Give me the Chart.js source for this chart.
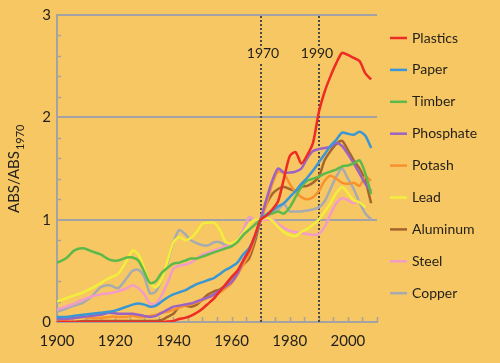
<!DOCTYPE html>
<html>
<head>
<meta charset="utf-8">
<script src="https://cdn.jsdelivr.net/npm/chart.js@4"></script>
<style>
  html, body { margin: 0; padding: 0; background: #f6c762; }
  #wrap { width: 500px; height: 363px; position: relative; }
</style>
</head>
<body>
<div id="wrap"><canvas id="chart" width="500" height="363"></canvas></div>
<script>
const years = [1900, 1903, 1906, 1909, 1912, 1915, 1918, 1921, 1924, 1926, 1928, 1930, 1932, 1934, 1936, 1938,
  1940, 1942, 1944, 1946, 1948, 1950, 1952, 1954, 1956, 1958, 1960, 1962, 1964, 1966, 1968,
  1970, 1972, 1974, 1976, 1978, 1980, 1982, 1984, 1986, 1988, 1990, 1992, 1994, 1996, 1998,
  2000, 2002, 2004, 2006, 2008];

const plastics = [0, 0, 0, 0, 0, 0, 0, 0, 0, 0, 0, 0, 0, 0, 0, 0.005,
  0.01, 0.03, 0.04, 0.06, 0.09, 0.13, 0.18, 0.23, 0.3, 0.37, 0.44, 0.5, 0.6, 0.7, 0.84,
  1.0, 1.04, 1.1, 1.18, 1.4, 1.62, 1.66, 1.55, 1.63, 1.75, 2.05, 2.25, 2.4, 2.53, 2.63,
  2.61, 2.58, 2.55, 2.43, 2.37];
const paper = [0.05, 0.05, 0.06, 0.07, 0.08, 0.09, 0.1, 0.12, 0.15, 0.17, 0.18, 0.17, 0.15, 0.16, 0.2, 0.24,
  0.27, 0.29, 0.31, 0.34, 0.37, 0.39, 0.41, 0.43, 0.47, 0.51, 0.54, 0.58, 0.66, 0.72, 0.83,
  1.0, 1.05, 1.09, 1.13, 1.16, 1.22, 1.28, 1.35, 1.41, 1.48, 1.56, 1.64, 1.72, 1.78, 1.85,
  1.84, 1.83, 1.86, 1.82, 1.7];
const timber = [0.58, 0.62, 0.7, 0.72, 0.69, 0.66, 0.61, 0.6, 0.63, 0.63, 0.6, 0.49, 0.38, 0.4, 0.48, 0.53,
  0.57, 0.58, 0.6, 0.62, 0.62, 0.64, 0.66, 0.68, 0.7, 0.72, 0.74, 0.78, 0.85, 0.9, 0.95,
  1.0, 1.05, 1.06, 1.08, 1.06, 1.12, 1.22, 1.32, 1.38, 1.4, 1.42, 1.45, 1.47, 1.49, 1.52,
  1.53, 1.55, 1.58, 1.45, 1.25];
const phosphate = [0.03, 0.03, 0.04, 0.05, 0.06, 0.07, 0.09, 0.08, 0.08, 0.08, 0.07, 0.06, 0.05, 0.06, 0.09, 0.12,
  0.15, 0.16, 0.17, 0.18, 0.2, 0.22, 0.24, 0.27, 0.31, 0.35, 0.39, 0.47, 0.6, 0.7, 0.84,
  1.0, 1.2, 1.38, 1.5, 1.46, 1.46, 1.47, 1.5, 1.6, 1.67, 1.69, 1.7, 1.71, 1.75, 1.72,
  1.64, 1.55, 1.45, 1.35, 1.28];
const potash = [0.01, 0.02, 0.04, 0.05, 0.04, 0.04, 0.05, 0.05, 0.05, 0.06, 0.05, 0.05, 0.06, 0.07, 0.09, 0.1,
  0.12, 0.14, 0.16, 0.17, 0.19, 0.21, 0.24, 0.26, 0.29, 0.33, 0.38, 0.46, 0.56, 0.66, 0.82,
  1.0, 1.15, 1.35, 1.47, 1.45, 1.35, 1.27, 1.22, 1.2, 1.22, 1.28, 1.38, 1.43, 1.4, 1.36,
  1.35, 1.36, 1.33, 1.42, 1.38];
const lead = [0.2, 0.23, 0.26, 0.29, 0.33, 0.38, 0.43, 0.47, 0.6, 0.7, 0.66, 0.52, 0.38, 0.34, 0.42, 0.6,
  0.78, 0.83, 0.8, 0.82, 0.88, 0.96, 0.97, 0.97, 0.9, 0.78, 0.77, 0.8, 0.87, 0.95, 1.0,
  1.0, 1.02, 0.99, 0.93, 0.88, 0.85, 0.84, 0.88, 0.91, 0.95, 1.0, 1.08, 1.16, 1.26, 1.32,
  1.26, 1.19, 1.17, 1.12, null];
const aluminum = [0, 0, 0, 0.01, 0.01, 0.01, 0.01, 0.01, 0.01, 0.01, 0.01, 0.01, 0.01, 0.01, 0.02, 0.05,
  0.08, 0.15, 0.16, 0.15, 0.17, 0.22, 0.27, 0.3, 0.32, 0.36, 0.43, 0.49, 0.56, 0.62, 0.78,
  1.0, 1.15, 1.25, 1.3, 1.32, 1.3, 1.28, 1.32, 1.33, 1.36, 1.42, 1.58, 1.67, 1.74, 1.77,
  1.68, 1.58, 1.5, 1.38, 1.16];
const steel = [0.12, 0.15, 0.18, 0.22, 0.25, 0.27, 0.28, 0.3, 0.33, 0.36, 0.33, 0.27, 0.18, 0.18, 0.26, 0.38,
  0.52, 0.55, 0.56, 0.58, 0.62, 0.66, 0.68, 0.7, 0.72, 0.74, 0.76, 0.8, 0.9, 1.02, 1.0,
  1.0, 1.0, 1.0, 0.96, 0.92, 0.89, 0.88, 0.87, 0.86, 0.85, 0.86, 0.93, 1.05, 1.16, 1.21,
  1.19, 1.16, 1.19, null, null];
const copper = [0.1, 0.13, 0.16, 0.19, 0.25, 0.34, 0.36, 0.33, 0.43, 0.5, 0.51, 0.44, 0.28, 0.3, 0.42, 0.58,
  0.78, 0.9, 0.86, 0.8, 0.77, 0.75, 0.75, 0.78, 0.78, 0.75, 0.74, 0.8, 0.88, 1.02, 1.0,
  1.0, 1.02, 1.07, 1.1, 1.15, 1.08, 1.08, 1.08, 1.09, 1.1, 1.12, 1.18, 1.3, 1.42, 1.5,
  1.4, 1.3, 1.17, 1.06, 1.0];

const seriesNames = ["Plastics", "Paper", "Timber", "Phosphate", "Potash", "Lead", "Aluminum", "Steel", "Copper"];
const seriesValues = [plastics, paper, timber, phosphate, potash, lead, aluminum, steel, copper];
const seriesColors = ["#ee2b25", "#3a97d5", "#5cba4a", "#9b63c3", "#f7922f", "#f3ee3c", "#a5652c", "#f29cc7", "#a6abb2"];
const markedYears = [1970, 1990];

const BG = "#f6c762";
const GRID = "#a3a3a6";
const TEXT = "#221f1a";
const FONT = "Lato, 'Open Sans', sans-serif";

function isWhole(v) {
  return Math.abs(v - Math.round(v)) < 1e-6;
}

const decor = {
  id: "decor",
  beforeDraw(chart) {
    const ctx = chart.ctx;
    ctx.save();
    ctx.fillStyle = BG;
    ctx.fillRect(0, 0, chart.width, chart.height);
    ctx.restore();
  },
  beforeDatasetsDraw(chart) {
    const ctx = chart.ctx;
    const { top, bottom, left } = chart.chartArea;
    const x = chart.scales.x;
    const y = chart.scales.y;
    ctx.save();
    // small inner ticks
    ctx.strokeStyle = GRID;
    ctx.lineWidth = 1.5;
    y.ticks.forEach((t) => {
      if (isWhole(t.value)) return;
      const py = Math.round(y.getPixelForValue(t.value)) + 0.5;
      ctx.beginPath();
      ctx.moveTo(left, py);
      ctx.lineTo(left + 4, py);
      ctx.stroke();
    });
    x.ticks.forEach((t) => {
      const px = Math.round(x.getPixelForValue(t.value)) + 0.5;
      ctx.beginPath();
      ctx.moveTo(px, bottom);
      ctx.lineTo(px, bottom - 5);
      ctx.stroke();
    });
    // dotted year markers
    ctx.font = `14px ${FONT}`;
    ctx.textAlign = "center";
    ctx.textBaseline = "middle";
    markedYears.forEach((yr) => {
      const px = Math.round(x.getPixelForValue(yr));
      ctx.fillStyle = "#4d4a45";
      for (let py = top + 1; py < bottom; py += 4) {
        if (py > 44 && py < 62) continue;
        ctx.fillRect(px - 1, py, 2, 2);
      }
      ctx.fillStyle = TEXT;
      ctx.fillText(String(yr), px + (yr === 1970 ? 2 : -2), 53);
    });
    ctx.restore();
  },
  afterDraw(chart) {
    const ctx = chart.ctx;
    ctx.save();
    // legend
    ctx.textAlign = "left";
    ctx.textBaseline = "middle";
    ctx.font = `14px ${FONT}`;
    chart.data.datasets.forEach((ds, i) => {
      const ly = 38 + i * 31.9;
      ctx.strokeStyle = ds.borderColor;
      ctx.lineWidth = 2.5;
      ctx.beginPath();
      ctx.moveTo(390, ly);
      ctx.lineTo(407, ly);
      ctx.stroke();
      ctx.fillStyle = TEXT;
      ctx.fillText(ds.label, 412, ly);
    });
    // y axis title with subscript
    ctx.translate(19, 213);
    ctx.rotate(-Math.PI / 2);
    ctx.textBaseline = "alphabetic";
    ctx.font = `15px ${FONT}`;
    ctx.fillText("ABS/ABS", 0, 0);
    const w = ctx.measureText("ABS/ABS").width;
    ctx.font = `11px ${FONT}`;
    ctx.fillText("1970", w + 1, 5);
    ctx.restore();
  },
};

const datasets = seriesNames.map((name, i) => ({
  label: name,
  data: years.map((yr, j) => ({ x: yr, y: seriesValues[i][j] })),
  borderColor: seriesColors[i],
  backgroundColor: seriesColors[i],
  borderWidth: 2.5,
  pointRadius: 0,
  tension: 0.25,
  fill: false,
}));

new Chart(document.getElementById("chart").getContext("2d"), {
  type: "line",
  data: { datasets },
  plugins: [decor],
  options: {
    responsive: false,
    animation: false,
    layout: { padding: { left: 0, top: 15, right: 123, bottom: 0 } },
    plugins: { legend: { display: false }, tooltip: { enabled: false } },
    scales: {
      x: {
        type: "linear",
        min: 1900,
        max: 2010,
        afterFit: (s) => { s.height = 41; },
        ticks: {
          stepSize: 5,
          autoSkip: false,
          maxRotation: 0,
          padding: 10,
          color: TEXT,
          font: { family: FONT, size: 15 },
          callback: (v) => (v % 20 === 0 && v <= 2000 ? String(v) : ""),
        },
        grid: { display: false, drawTicks: false },
        border: { display: true, color: GRID, width: 2 },
      },
      y: {
        min: 0,
        max: 3,
        afterFit: (s) => { s.width = 57; },
        ticks: {
          stepSize: 0.2,
          autoSkip: false,
          padding: 6,
          color: TEXT,
          font: { family: FONT, size: 15 },
          callback: (v) => (isWhole(v) ? String(Math.round(v)) : ""),
        },
        grid: {
          drawTicks: false,
          lineWidth: 2,
          color: (c) => (c.tick && isWhole(c.tick.value) && c.tick.value > 0 ? GRID : "rgba(0,0,0,0)"),
        },
        border: { display: true, color: GRID, width: 2 },
      },
    },
  },
});
</script>
</body>
</html>
